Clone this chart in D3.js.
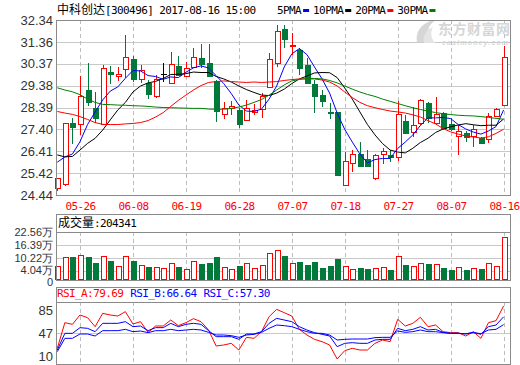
<!DOCTYPE html>
<html>
<head>
<meta charset="utf-8">
<script src="https://cdn.jsdelivr.net/npm/d3@7"></script>
<style>
  html, body { margin: 0; padding: 0; background: #fff; }
  svg { display: block; }
</style>
</head>
<body>
<svg id="chart" width="520" height="365"></svg>
<script>
// ── Data ──────────────────────────────────────────────────────────────────────

const dates = [
  '05-23','05-24','05-25','05-26','05-31','06-01','06-02','06-05','06-06','06-07',
  '06-08','06-09','06-12','06-13','06-14','06-15','06-16','06-19','06-20','06-21',
  '06-22','06-23','06-26','06-27','06-28','06-29','06-30','07-03','07-04','07-05',
  '07-06','07-07','07-10','07-11','07-12','07-13','07-14','07-17','07-18','07-19',
  '07-20','07-21','07-24','07-25','07-26','07-27','07-28','07-31','08-01','08-02',
  '08-03','08-04','08-07','08-08','08-09','08-10','08-11','08-14','08-15','08-16'
];

const openP = [
  24.74,24.92,27.68,27.63,29.17,28.35,27.63,30.01,29.81,30.11,
  30.59,29.66,29.51,28.91,29.90,29.51,30.26,29.81,30.23,30.61,
  30.39,29.59,28.08,28.38,28.28,27.83,28.17,28.32,29.30,30.39,
  31.93,31.16,30.99,30.31,29.45,28.95,28.19,28.17,24.89,25.90,
  26.28,26.06,25.19,26.28,26.25,26.17,27.78,27.30,27.68,28.58,
  27.70,28.13,27.63,27.10,27.23,27.10,27.03,26.98,28.01,28.49
];
const highP = [
  25.20,27.68,27.93,29.81,30.38,29.08,30.31,30.28,30.20,31.66,
  30.73,30.31,29.63,29.86,30.41,30.91,30.73,30.46,31.06,31.24,
  31.24,29.62,28.63,28.68,28.35,28.73,28.53,29.03,30.84,32.11,
  32.11,31.75,31.06,30.61,29.63,29.18,28.58,28.20,26.37,26.47,
  26.85,26.47,26.30,26.55,26.47,28.68,28.05,28.43,28.78,28.65,
  28.85,28.20,27.90,27.60,27.34,27.60,27.07,28.16,28.37,31.17
];
const lowP = [
  24.63,24.85,26.73,27.15,28.47,27.70,27.60,29.44,29.59,29.74,
  29.55,29.51,28.76,28.83,29.55,29.45,29.83,29.78,30.20,30.16,
  29.78,27.75,27.86,28.05,27.45,27.78,28.05,27.90,29.28,30.20,
  31.06,30.76,29.86,29.48,28.16,28.43,27.87,25.30,24.86,25.49,
  25.72,25.72,25.12,25.83,25.94,25.99,27.23,27.07,27.62,27.70,
  27.65,27.37,27.34,26.25,26.85,26.62,26.78,26.80,27.98,28.45
];
const closeP = [
  25.19,27.68,27.50,28.92,28.63,27.93,30.16,29.92,29.90,30.66,
  29.68,30.08,28.99,29.66,29.90,30.34,29.86,30.16,30.66,30.34,
  29.83,28.23,28.35,28.47,27.63,28.35,28.28,28.92,30.57,31.84,
  31.48,31.20,30.16,29.51,28.92,28.70,28.15,25.34,25.98,26.28,
  25.76,25.76,26.25,26.43,26.16,28.08,27.25,27.60,28.73,27.90,
  28.10,27.45,27.41,27.34,27.04,27.41,26.80,28.01,28.31,30.66
];

// volume, in 万 shares
const volume = [
  6.58,10.70,10.95,11.75,10.95,8.13,11.28,8.93,6.58,11.28,
  8.93,7.05,6.27,6.10,5.48,7.83,6.27,5.17,8.93,7.52,
  8.13,10.95,5.95,5.17,6.73,7.83,5.48,7.05,12.53,13.94,
  11.28,7.83,8.46,7.05,8.46,5.64,6.58,9.87,6.58,5.01,
  5.64,5.17,5.64,6.10,4.70,11.12,7.05,6.58,7.83,7.52,
  7.36,5.64,4.70,5.95,4.70,5.48,5.17,7.83,6.58,20.4341
];

const ma5 = [
  25.92,26.16,26.29,26.85,27.62,28.19,28.73,29.13,29.32,29.71,
  30.06,30.04,29.83,29.79,29.66,29.77,29.74,29.98,30.18,30.27,
  30.17,29.83,29.47,29.02,28.50,28.23,28.21,28.32,28.77,29.36,
  30.22,30.81,31.05,30.78,30.22,29.68,29.04,28.14,27.40,26.83,
  26.29,25.89,26.04,26.09,26.09,26.54,26.83,27.15,27.58,27.92,
  27.92,27.94,27.89,27.62,27.42,27.28,27.19,27.33,27.53,28.28
];
const ma10 = [
  26.25,26.16,26.18,26.47,26.77,27.00,27.37,27.83,28.28,28.62,
  29.09,29.36,29.50,29.57,29.70,29.88,29.89,29.92,29.99,29.97,
  29.97,29.79,29.68,29.54,29.36,29.20,29.07,28.95,28.93,29.04,
  29.22,29.47,29.68,29.81,29.95,29.97,29.96,29.74,29.27,28.77,
  28.19,27.62,27.15,26.76,26.47,26.38,26.34,26.55,26.81,27.00,
  27.26,27.42,27.52,27.60,27.66,27.61,27.57,27.59,27.59,27.87
];
const ma20 = [
  28.21,28.14,28.08,27.98,27.85,27.71,27.63,27.62,27.62,27.65,
  27.67,27.71,27.80,27.96,28.16,28.44,28.71,28.95,29.18,29.38,
  29.52,29.56,29.59,29.56,29.54,29.52,29.54,29.52,29.54,29.56,
  29.61,29.65,29.68,29.68,29.68,29.63,29.54,29.36,29.09,28.84,
  28.62,28.47,28.38,28.30,28.23,28.19,28.14,28.06,27.96,27.80,
  27.65,27.44,27.29,27.19,27.10,27.06,27.01,27.07,27.22,27.41
];
const ma30 = [
  29.28,29.18,29.10,28.97,28.77,28.62,28.53,28.52,28.50,28.49,
  28.47,28.46,28.44,28.41,28.39,28.38,28.37,28.36,28.35,28.35,
  28.32,28.31,28.31,28.35,28.41,28.50,28.62,28.75,28.95,29.18,
  29.41,29.59,29.66,29.70,29.70,29.68,29.61,29.50,29.36,29.22,
  29.09,28.98,28.89,28.77,28.67,28.57,28.47,28.38,28.30,28.23,
  28.16,28.11,28.07,28.04,28.02,28.01,27.98,27.94,27.90,27.86
];

const rsiA = [
  28.8,59.6,57.6,68.8,65.6,54.8,70.8,68.8,67.6,72.8,
  58.0,60.8,48.0,55.6,55.6,62.8,56.0,59.6,64.4,60.8,
  50.8,31.6,32.8,34.8,26.8,42.0,40.8,48.8,66.8,75.6,
  71.6,67.6,51.6,44.8,39.6,36.8,32.8,16.0,26.0,28.8,
  26.8,26.8,34.8,38.8,36.8,63.6,55.6,58.8,66.0,54.8,
  56.8,48.8,47.6,47.6,43.6,48.8,40.8,59.6,62.0,79.69
];
const rsiB = [
  26.8,46.8,46.8,53.6,52.8,48.8,58.8,58.8,58.8,60.8,
  54.8,55.6,50.0,53.6,53.6,58.8,54.8,57.6,58.8,57.6,
  50.0,42.8,42.8,42.8,39.6,46.0,46.0,48.8,58.8,64.8,
  62.8,60.8,54.8,50.8,47.6,45.6,43.6,30.8,34.8,35.6,
  34.8,34.8,38.8,39.6,39.6,52.8,50.0,51.6,54.8,50.8,
  51.6,48.0,46.8,46.8,46.0,48.0,45.6,54.8,56.8,66.64
];
const rsiC = [
  24.8,40.8,40.8,46.0,46.0,43.6,50.0,50.0,50.0,51.6,
  48.8,49.6,47.6,50.0,50.0,51.6,50.0,50.8,51.6,50.8,
  48.0,44.8,44.8,44.0,42.0,44.8,45.6,48.0,52.8,56.8,
  56.0,54.8,51.6,48.8,46.8,46.8,44.8,38.8,39.6,40.0,
  40.0,40.0,41.6,42.0,42.0,49.6,48.0,48.8,50.8,48.8,
  48.8,47.6,46.8,46.8,46.4,47.6,46.4,50.8,51.6,57.30
];

const dateTicks       = ['05-26','06-08','06-19','06-28','07-07','07-18','07-27','08-07','08-16'];
const priceTicks      = [32.34, 31.3525, 30.365, 29.3775, 28.39, 27.4025, 26.415, 25.4275, 24.44];
const priceTickLabels = ['32.34','31.36','30.37','29.38','28.39','27.40','26.41','25.42','24.44'];
const volTicks        = [22.56, 16.39, 10.22, 4.04, 0];
const volTickLabels   = ['22.56万','16.39万','10.22万','4.04万','0'];
const rsiTicks        = [85, 47.5, 10];
const rsiTickLabels   = ['85','47','10'];
const maNames         = ['5PMA','10PMA','20PMA','30PMA'];
const rsiNames        = ['RSI_A','RSI_B','RSI_C'];

// ── Look ──────────────────────────────────────────────────────────────────────

const RED = '#f00', GREEN = '#00793a', BLUE = '#00f', MAGREEN = '#008000';
const maColors  = [BLUE, '#000', RED, MAGREEN];
const rsiColors = [RED, BLUE, BLUE];
const MONO = "'DejaVu Sans Mono', monospace";
const CJK  = "'Noto Sans CJK SC', sans-serif";
const SANS = "'Liberation Sans', Arial, sans-serif";

const L = 56, R = 510;
const price = { top: 20, bottom: 195 };
const vol   = { head: 214, top: 232, bottom: 280 };
const rsi   = { head: 287, top: 301.5, bottom: 364 };

// ── Scales ────────────────────────────────────────────────────────────────────

const x  = d3.scalePoint().domain(dates).range([57.3, 503.6]);
const yP = d3.scaleLinear().domain([24.44, 32.34]).range([price.bottom, price.top]);
const yV = d3.scaleLinear().domain([0, 22.56]).range([vol.bottom, vol.top]);
const yR = d3.scaleLinear().domain([10, 85]).range([rsi.bottom, rsi.top]);
const cx = d => Math.round(x(d)) + 0.5;
const px = v => Math.round(v) + 0.5;

const svg = d3.select('#chart');

// ── Frames and grids ──────────────────────────────────────────────────────────

function hgrid(scale, ticks) {
  svg.append('g').selectAll('line').data(ticks).join('line')
    .attr('x1', L).attr('x2', R)
    .attr('y1', d => px(scale(d))).attr('y2', d => px(scale(d)))
    .attr('stroke', '#c8c8c8').attr('shape-rendering', 'crispEdges');
}
function vgrid(y0, y1) {
  svg.append('g').selectAll('line').data(dateTicks).join('line')
    .attr('x1', d => cx(d)).attr('x2', d => cx(d))
    .attr('y1', y0).attr('y2', y1)
    .attr('stroke', '#bdbdbd').attr('stroke-dasharray', '4,3')
    .attr('shape-rendering', 'crispEdges');
}
function frame(y0, y1) {
  svg.append('rect')
    .attr('x', L + 0.5).attr('y', y0 + 0.5)
    .attr('width', R - L).attr('height', y1 - y0)
    .attr('fill', 'none').attr('stroke', '#8a8a8a').attr('shape-rendering', 'crispEdges');
}

hgrid(yP, priceTicks.slice(1, -1));
vgrid(price.top, price.bottom);
hgrid(yV, volTicks.slice(1, -1));
vgrid(vol.top, vol.bottom);
hgrid(yR, [47.5]);
vgrid(rsi.top, rsi.bottom);

// ── Watermark ─────────────────────────────────────────────────────────────────

const wm = svg.append('g').attr('fill', '#d6d6d6');
wm.append('path').attr('d', 'M417,42 C415,30 424,21 436,20 C428,25 425,33 430,43 Z');
wm.append('path').attr('d', 'M424,43 C422,36 427,29 433,27 C430,33 431,38 435,43 Z').attr('fill', '#e4e4e4');
wm.append('text').attr('x', 438).attr('y', 34)
  .style('font-family', CJK).style('font-size', '14px').style('font-weight', 'bold')
  .attr('textLength', 72).text('东方财富网');
wm.append('text').attr('x', 442).attr('y', 45)
  .style('font-family', SANS).style('font-size', '7px').style('font-weight', 'bold')
  .style('font-style', 'italic').attr('textLength', 66).text('eastmoney.com');

// ── Candles ───────────────────────────────────────────────────────────────────

const bars = dates.map((d, i) => ({
  d, o: openP[i], h: highP[i], l: lowP[i], c: closeP[i], v: volume[i]
}));

const candle = svg.append('g').attr('shape-rendering', 'crispEdges')
  .selectAll('g').data(bars).join('g');

candle.each(function(b) {
  const g  = d3.select(this);
  const xc = cx(b.d);
  const top = Math.round(yP(Math.max(b.o, b.c)));
  const bot = Math.round(yP(Math.min(b.o, b.c)));
  if (b.c === b.o) {
    g.append('line').attr('x1', xc).attr('x2', xc)
      .attr('y1', yP(b.h)).attr('y2', yP(b.l)).attr('stroke', '#000');
    g.append('line').attr('x1', xc - 3).attr('x2', xc + 3)
      .attr('y1', top + 0.5).attr('y2', top + 0.5).attr('stroke', '#000');
  } else if (b.c > b.o) {
    g.append('line').attr('x1', xc).attr('x2', xc)
      .attr('y1', yP(b.h)).attr('y2', top).attr('stroke', RED);
    g.append('line').attr('x1', xc).attr('x2', xc)
      .attr('y1', bot).attr('y2', yP(b.l)).attr('stroke', RED);
    g.append('rect').attr('x', xc - 2.5).attr('y', top + 0.5)
      .attr('width', 5).attr('height', Math.max(bot - top, 1))
      .attr('fill', '#fff').attr('stroke', RED);
  } else {
    g.append('line').attr('x1', xc).attr('x2', xc)
      .attr('y1', yP(b.h)).attr('y2', yP(b.l)).attr('stroke', GREEN);
    g.append('rect').attr('x', xc - 2.5).attr('y', top + 0.5)
      .attr('width', 5).attr('height', Math.max(bot - top, 1))
      .attr('fill', GREEN).attr('stroke', GREEN);
  }
});

// ── Moving averages ───────────────────────────────────────────────────────────

[ma5, ma10, ma20, ma30].forEach((series, k) => {
  svg.append('path')
    .datum(series)
    .attr('fill', 'none').attr('stroke', maColors[k]).attr('stroke-width', 1)
    .attr('d', d3.line().x((v, i) => x(dates[i])).y(v => yP(v)));
});

// ── Volume ────────────────────────────────────────────────────────────────────

svg.append('g').attr('shape-rendering', 'crispEdges')
  .selectAll('rect').data(bars).join('rect')
  .attr('x', b => cx(b.d) - 2.5)
  .attr('y', b => Math.round(yV(b.v)) + 0.5)
  .attr('width', 5)
  .attr('height', b => vol.bottom - Math.round(yV(b.v)) - 1)
  .attr('fill', b => b.c >= b.o ? '#fff' : GREEN)
  .attr('stroke', b => b.c >= b.o ? RED : GREEN);

// ── RSI ───────────────────────────────────────────────────────────────────────

[rsiA, rsiB, rsiC].forEach((series, k) => {
  svg.append('path')
    .datum(series)
    .attr('fill', 'none').attr('stroke', rsiColors[k]).attr('stroke-width', 1)
    .attr('d', d3.line().x((v, i) => x(dates[i])).y(v => yR(v)));
});

// ── Frames on top ─────────────────────────────────────────────────────────────

frame(price.top, price.bottom);
frame(vol.head, vol.bottom);
frame(rsi.head, rsi.bottom);
svg.append('line').attr('x1', L).attr('x2', R)
  .attr('y1', vol.top + 0.5).attr('y2', vol.top + 0.5).attr('stroke', '#8a8a8a');
svg.append('line').attr('x1', L).attr('x2', R)
  .attr('y1', px(rsi.top)).attr('y2', px(rsi.top)).attr('stroke', '#8a8a8a');

// ── Axis labels ───────────────────────────────────────────────────────────────

function yLabels(scale, ticks, labels, size, shift) {
  svg.append('g').selectAll('text').data(ticks).join('text')
    .attr('x', 53).attr('y', (d, i) => scale(d) + (shift ? shift[i] : 0))
    .attr('dy', '0.36em').attr('text-anchor', 'end')
    .style('font-family', SANS).style('font-size', size + 'px').style('fill', '#333')
    .text((d, i) => labels[i]);
}
yLabels(yP, priceTicks, priceTickLabels, 13);
yLabels(yV, volTicks, volTickLabels, 11, [0, 0, 0, -1.5, 2]);
yLabels(yR, rsiTicks, rsiTickLabels, 13, [8.5, 0.5, -8]);

svg.append('g').selectAll('text').data(dateTicks).join('text')
  .attr('x', d => cx(d)).attr('y', 210).attr('text-anchor', 'middle')
  .style('font-family', MONO).style('font-size', '11px').style('letter-spacing', '-0.6px')
  .style('fill', RED).text(d => d);

// ── Titles and legends ────────────────────────────────────────────────────────

const title = svg.append('text').attr('x', 57).attr('y', 14).style('fill', '#000');
title.append('tspan').style('font-family', CJK).style('font-size', '12px').text('中科创达');
title.append('tspan').style('font-family', MONO).style('font-size', '11px')
  .style('letter-spacing', '-0.6px').text('[300496] 2017-08-16 15:00');

let lx = 277;
maNames.forEach((name, k) => {
  const t = svg.append('text').attr('x', lx).attr('y', 14)
    .style('font-family', MONO).style('font-size', '11px').style('letter-spacing', '-0.6px')
    .text(name);
  const w = t.node().getComputedTextLength();
  svg.append('rect').attr('x', lx + w + 2).attr('y', 9).attr('width', 6).attr('height', 3)
    .attr('fill', maColors[k]);
  lx += w + 12;
});

const vHead = svg.append('text').attr('x', 58).attr('y', 227).style('fill', '#000');
vHead.append('tspan').style('font-family', CJK).style('font-size', '12px').text('成交量');
vHead.append('tspan').style('font-family', MONO).style('font-size', '11px')
  .style('letter-spacing', '-0.6px').text(':' + Math.round(volume[volume.length - 1] * 10000));

let rx = 57;
[rsiA, rsiB, rsiC].forEach((series, k) => {
  const t = svg.append('text').attr('x', rx).attr('y', 297)
    .style('font-family', MONO).style('font-size', '11px').style('letter-spacing', '-0.6px')
    .style('fill', rsiColors[k])
    .text(rsiNames[k] + ':' + series[series.length - 1].toFixed(2));
  rx += t.node().getComputedTextLength() + 7;
});
</script>
</body>
</html>
